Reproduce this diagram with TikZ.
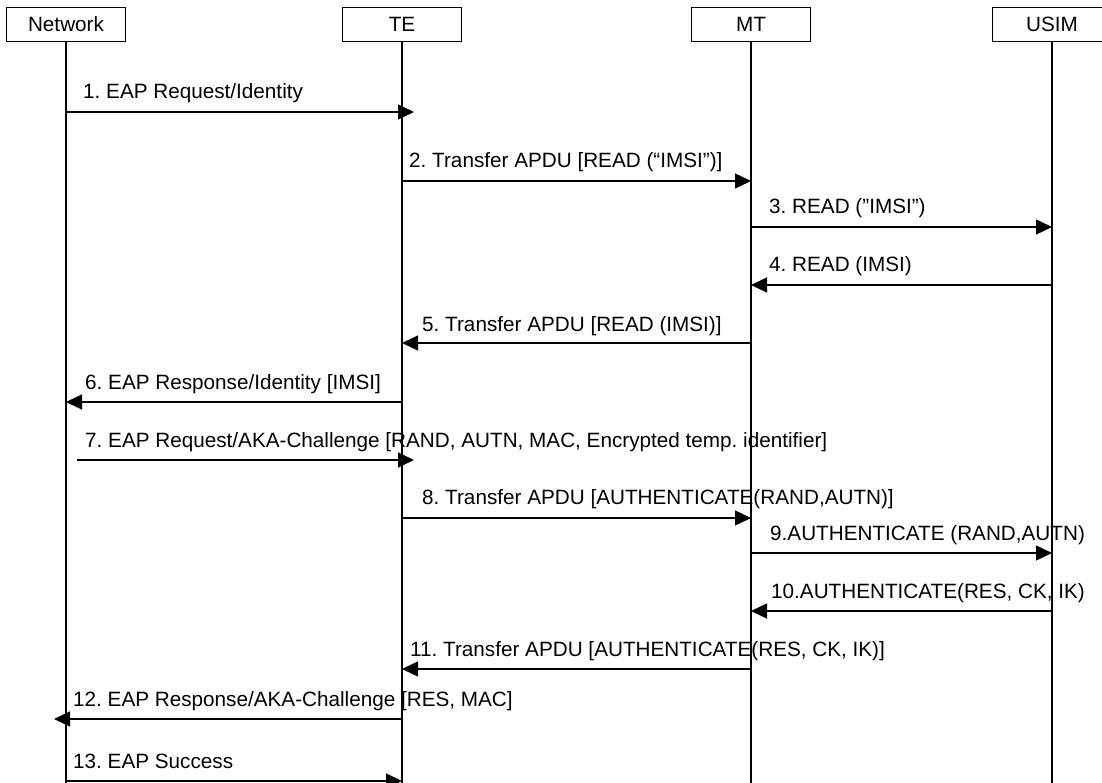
\documentclass[tikz,border=0pt]{standalone}
\usepackage{fontspec}
\setmainfont{Liberation Sans}
\usetikzlibrary{arrows.meta}
\frenchspacing
\tikzset{
  entity/.style={draw, line width=1.3pt, minimum width=119pt, minimum height=34pt,
    inner sep=0pt, text height=14.8pt, text depth=0pt, anchor=center},
  lifeline/.style={line width=1.3pt},
  msg/.style={line width=1.3pt, -{Triangle[length=16pt, width=15pt]}},
  lbl/.style={anchor=base west, inner sep=0pt}
}
\begin{document}
\begin{tikzpicture}[x=1pt, y=-1pt, font=\fontsize{20.7}{24}\selectfont]
\useasboundingbox (0,0) rectangle (1102,783);
\clip (0,0) rectangle (1102,783);

% participants
\node[entity] (net)  at (66,24.5)   {Network};
\node[entity] (te)   at (402,24.5)  {TE};
\node[entity] (mt)   at (751,24.5)  {MT};
\node[entity] (usim) at (1052,24.5) {USIM};

\coordinate (bottom) at (0,790);
\foreach \p in {net,te,mt,usim}
  \draw[lifeline] (\p.south) -- (\p |- bottom);

% message rows
\coordinate (r1)  at (0,112);
\coordinate (r2)  at (0,181);
\coordinate (r3)  at (0,227);
\coordinate (r4)  at (0,285);
\coordinate (r5)  at (0,343);
\coordinate (r6)  at (0,402);
\coordinate (r7)  at (0,460);
\coordinate (r8)  at (0,518);
\coordinate (r9)  at (0,553);
\coordinate (r10) at (0,611);
\coordinate (r11) at (0,669);
\coordinate (r12) at (0,719);
\coordinate (r13) at (0,781);

% messages
\draw[msg] (net |- r1) -- ([xshift=12pt]te |- r1);
\node[lbl] (t1) at (83,99) {1. EAP Request/Identity};

\draw[msg] (te |- r2) -- (mt |- r2);
\node[lbl] (t2) at (409,168) {2. Transfer APDU [READ (“IMSI”)]};

\draw[msg] (mt |- r3) -- (usim |- r3);
\node[lbl] (t3) at (769,214) {3. READ (”IMSI”)};

\draw[msg] (usim |- r4) -- (mt |- r4);
\node[lbl] (t4) at (769,272) {4. READ (IMSI)};

\draw[msg] (mt |- r5) -- (te |- r5);
\node[lbl] (t5) at (422,331) {5. Transfer APDU [READ (IMSI)]};

\draw[msg] (te |- r6) -- (net |- r6);
\node[lbl] (t6) at (85,389) {6. EAP Response/Identity [IMSI]};

\draw[msg] ([xshift=11pt]net |- r7) -- ([xshift=12pt]te |- r7);
\node[lbl] (t7) at (85,447) {7. EAP Request/AKA-Challenge [RAND, AUTN, MAC, Encrypted temp. identifier]};

\draw[msg] (te |- r8) -- (mt |- r8);
\node[lbl] (t8) at (422,504) {8. Transfer APDU [AUTHENTICATE(RAND,AUTN)]};

\draw[msg] (mt |- r9) -- (usim |- r9);
\node[lbl] (t9) at (770,540) {9.AUTHENTICATE (RAND,AUTN)};

\draw[msg] (usim |- r10) -- (mt |- r10);
\node[lbl] (t10) at (771,598) {10.AUTHENTICATE(RES, CK, IK)};

\draw[msg] (mt |- r11) -- (te |- r11);
\node[lbl] (t11) at (410,656) {11. Transfer APDU [AUTHENTICATE(RES, CK, IK)]};

\draw[msg] (te |- r12) -- ([xshift=-12pt]net |- r12);
\node[lbl] (t12) at (73,706) {12. EAP Response/AKA-Challenge [RES, MAC]};

\draw[msg] (net |- r13) -- (te |- r13);
\node[lbl] (t13) at (73,768) {13. EAP Success};
\end{tikzpicture}
\end{document}
